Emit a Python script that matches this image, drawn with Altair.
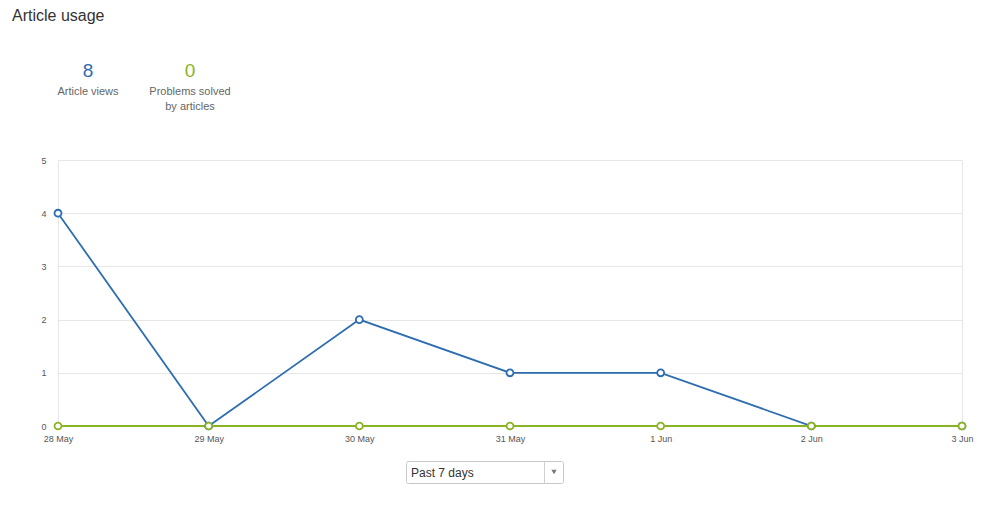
import altair as alt
import pandas as pd

days = ["28 May", "29 May", "30 May", "31 May", "1 Jun", "2 Jun", "3 Jun"]
article_views = [4, 0, 2, 1, 1, 0, 0]
problems_solved = [0, 0, 0, 0, 0, 0, 0]
series_names = ["Article views", "Problems solved by articles"]
series_colors = ["#2d6db0", "#8ab424"]
kpi_values = ["8", "0"]
title_text = "Article usage"
dropdown_text = "Past 7 days"

rows = []
for d, v in zip(days, article_views):
    rows.append({"day": d, "value": v, "series": series_names[0]})
for d, v in zip(days, problems_solved):
    rows.append({"day": d, "value": v, "series": series_names[1]})
df = pd.DataFrame(rows)

FONT = "Liberation Sans"

x_enc = alt.X("day:O", sort=days, scale=alt.Scale(padding=0),
              axis=alt.Axis(title=None, labelAngle=0, domain=False, ticks=False,
                            labelPadding=8, labelFontSize=9, labelColor="#555",
                            labelFont=FONT, grid=False))
y_enc = alt.Y("value:Q", scale=alt.Scale(domain=[0, 5]),
              axis=alt.Axis(title=None, values=[0, 1, 2, 3, 4, 5], domain=False, ticks=False,
                            labelPadding=12, labelFontSize=9, labelColor="#555",
                            labelFont=FONT, grid=True, gridColor="#e6e6e6"))
color_enc = alt.Color("series:N", scale=alt.Scale(domain=series_names, range=series_colors),
                      legend=None)

base = alt.Chart(df)
lines = base.mark_line(strokeWidth=1.8).encode(x=x_enc, y=y_enc, color=color_enc,
                                                order=alt.Order("series:N"))
points = base.mark_point(filled=True, fill="white", size=48, strokeWidth=1.8, opacity=1).encode(
    x=x_enc, y=y_enc, stroke=alt.Stroke("series:N", scale=alt.Scale(domain=series_names, range=series_colors), legend=None))

one = alt.Data(values=[{"a": 1}])


def txt(t, x, y, size, color, align="center"):
    return alt.Chart(one).mark_text(text=t, fontSize=size, color=color, font=FONT,
                                    align=align, baseline="middle").encode(
        x=alt.value(x), y=alt.value(y))


title = txt(title_text, -46, -144, 16, "#333", "left")
k1 = txt(kpi_values[0], 30, -89, 19, series_colors[0])
k1l = txt("Article views", 30, -68, 11, "#666")
k2 = txt(kpi_values[1], 132, -89, 19, series_colors[1])
k2l = txt("Problems solved", 132, -68, 11, "#666")
k2l2 = txt("by articles", 132, -53, 11, "#666")

box = alt.Chart(one).mark_rect(fill="white", stroke="#c8c8c8", strokeWidth=1, cornerRadius=2).encode(
    x=alt.value(348.5), x2=alt.value(505.5), y=alt.value(301.5), y2=alt.value(323.5))
sep = alt.Chart(one).mark_rule(color="#d0d0d0").encode(
    x=alt.value(486.5), y=alt.value(301.5), y2=alt.value(323.5))
arrow = alt.Chart(one).mark_point(shape="triangle-down", filled=True, fill="#777", size=28,
                                  opacity=1, strokeWidth=0).encode(
    x=alt.value(496), y=alt.value(312))
dd_text = txt(dropdown_text, 353, 312.5, 12, "#333", "left")

chart = alt.layer(lines, points, title, k1, k1l, k2, k2l, k2l2, box, sep, arrow, dd_text).properties(
    width=904, height=266,
    autosize=alt.AutoSizeParams(type="none"),
    padding={"left": 50, "top": 152, "right": 29, "bottom": 73},
    background="white",
).configure_view(stroke="#e6e6e6", strokeWidth=1)

chart.save("out.html", embed_options={"renderer": "svg", "actions": False})
